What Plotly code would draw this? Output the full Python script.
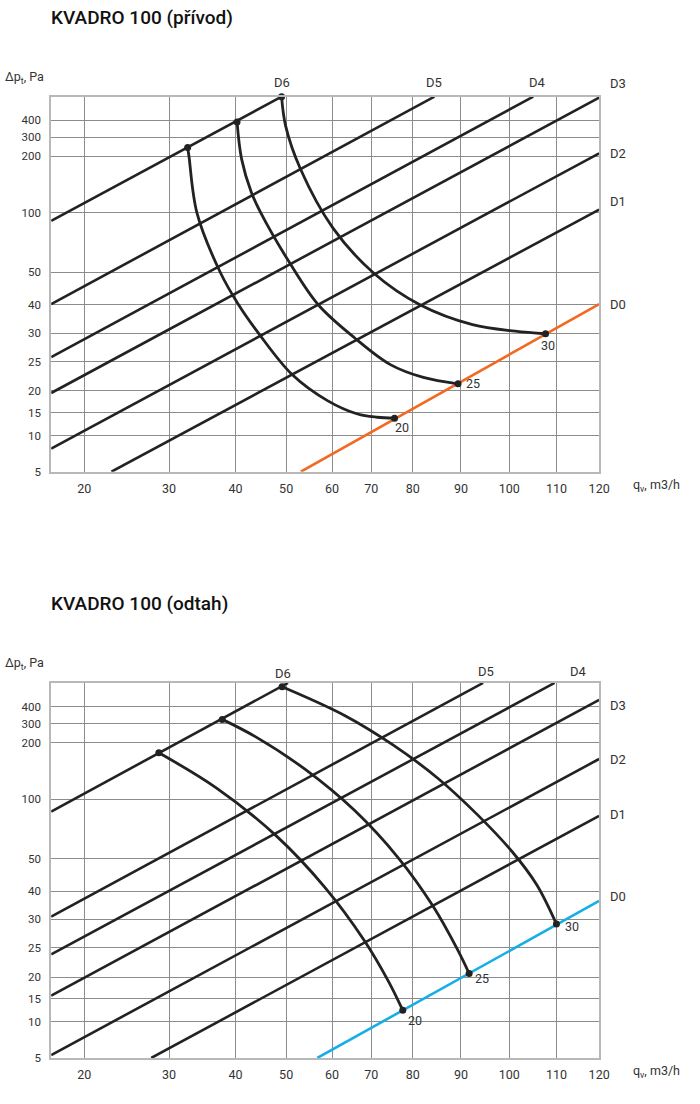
import numpy as np
import plotly.graph_objects as go

# ---------------- scale (nomogram rulers) ----------------
FLOW_TICKS = [20, 30, 40, 50, 60, 70, 80, 90, 100, 110, 120]
PRESSURE_TICKS = [5, 10, 15, 20, 25, 30, 40, 50, 100, 200, 300, 400]
FLOW_EDGE_MIN = 16
PRESSURE_EDGE_MAX = 500
# non-uniform ruler of the printed nomogram (ruler units, left/bottom edge = 0)
FLOW_RULER = [0, 33.7, 119.7, 187.3, 238.7, 285.3, 325.3, 367.3, 416.3, 465.3, 513.3, 556.7]
PRESSURE_RULER = [0, 36.4, 59.4, 81.4, 110.7, 139.4, 168, 200.7, 260.4, 317.4, 336.4, 353.7, 377.4]

D_NAMES = ["D0", "D1", "D2", "D3", "D4", "D5", "D6"]
CURVE_NAMES = ["20", "25", "30"]

# ---------------- KVADRO 100 (přívod) ----------------
SUP_D_Q_START = [53.2, 23.2, 16, 16, 16, 16, 16]
SUP_D_P_START = [5, 5, 8.2, 19.5, 25.8, 40.2, 93.3]
SUP_D_Q_END = [120, 120, 120, 120, 105.1, 84.5, 49.1]
SUP_D_P_END = [40.2, 106, 216, 496, 500, 500, 500]

SUP_C20_Q = [32.8, 33.0, 34.2, 37.7, 40.6, 44.7, 51.3, 59.1, 66.5, 71.4, 75.6]
SUP_C20_P = [247, 200, 100, 50, 40, 29.8, 22.8, 17.7, 14.7, 14.0, 13.8]
SUP_C25_Q = [40.3, 41.2, 43.1, 45.0, 50.6, 57.0, 65.7, 74.6, 82.2, 89.4]
SUP_C25_P = [390, 195, 137, 100, 59, 40, 29.2, 24.5, 22.3, 21.2]
SUP_C30_Q = [49.1, 49.9, 53.1, 60.3, 70.6, 81.5, 92.4, 101.3, 107.7]
SUP_C30_P = [500, 367, 178, 87, 49.7, 40, 33, 30.7, 29.9]

# ---------------- KVADRO 100 (odtah) ----------------
EXH_D_Q_START = [56.8, 27.9, 16, 16, 16, 16, 16]
EXH_D_P_START = [5, 5, 5.4, 15.75, 23.9, 31, 89.6]
EXH_D_Q_END = [120, 120, 120, 120, 109.6, 94.6, 50.4]
EXH_D_P_END = [36.5, 86, 171, 428, 500, 500, 500]

EXH_C20_Q = [28.8, 37.1, 47.9, 58.4, 68.2, 74.2, 77.6]
EXH_C20_P = [182, 120, 69.7, 41.2, 26.3, 18.9, 12.5]
EXH_C25_Q = [38.0, 44.0, 54.1, 65.7, 76.6, 84.2, 89.3, 91.7]
EXH_C25_P = [325, 230, 153, 90.6, 50.2, 34.7, 24.7, 20.6]
EXH_C30_Q = [49.2, 63.2, 75.4, 85.2, 93.4, 100.6, 105.8, 110]
EXH_C30_P = [484, 348, 195, 137, 87, 55.9, 42, 29.2]

# ---------------- styles ----------------
W, H = 700, 1104
INK = "#222222"
TEXT = "#333333"
FONT = "Roboto"
SUP_D0_COLOR = "#f26a21"
EXH_D0_COLOR = "#16aee6"

FLOW_SCALE_VALUES = [FLOW_EDGE_MIN] + FLOW_TICKS
PRESSURE_SCALE_VALUES = PRESSURE_TICKS + [PRESSURE_EDGE_MAX]


def fx(q):
    return np.interp(np.asarray(q, dtype=float), FLOW_SCALE_VALUES, FLOW_RULER)


def fy(p):
    return np.interp(np.asarray(p, dtype=float), PRESSURE_SCALE_VALUES, PRESSURE_RULER)


fig = go.Figure()

# label offsets (px) for D labels: (xshift, yshift, xanchor)
SUP_D_LABEL_OFF = [(9, 0, "left"), (9, 8, "left"), (9, 0, "left"), (9, 14, "left"),
                   (4, 14, "center"), (0, 14, "center"), (0, 14, "center")]
EXH_D_LABEL_OFF = [(9, 4, "left"), (9, 1, "left"), (9, -1, "left"), (9, -6, "left"),
                   (24, 11, "center"), (3, 11, "center"), (-5, 9, "center")]
SUP_CURVE_LABEL_OFF = [(7, -9), (15, 0), (2, -12)]
EXH_CURVE_LABEL_OFF = [(12, -10), (13, -5), (16, -3)]


def add_chart(xa, ya, dq0, dp0, dq1, dp1, curves, d0_color, d_off, c_off):
    annotations = []
    for i, name in enumerate(D_NAMES):
        color = d0_color if i == 0 else INK
        fig.add_trace(go.Scatter(
            x=fx([dq0[i], dq1[i]]), y=fy([dp0[i], dp1[i]]),
            mode="lines", line=dict(color=color, width=2.6),
            xaxis=xa, yaxis=ya, hoverinfo="skip", showlegend=False))
        xs, ys, anc = d_off[i]
        annotations.append(dict(
            x=float(fx(dq1[i])), y=float(fy(dp1[i])),
            xref=xa, yref=ya, text=name, showarrow=False,
            xanchor=anc, yanchor="middle", xshift=xs, yshift=ys,
            font=dict(family=FONT, size=13, color=TEXT)))
    for j, (q, p) in enumerate(curves):
        fig.add_trace(go.Scatter(
            x=fx(q), y=fy(p), mode="lines",
            line=dict(color=INK, width=2.8, shape="spline", smoothing=1.0),
            xaxis=xa, yaxis=ya, hoverinfo="skip", showlegend=False))
        fig.add_trace(go.Scatter(
            x=fx([q[0], q[-1]]), y=fy([p[0], p[-1]]), mode="markers",
            marker=dict(color=INK, size=7),
            xaxis=xa, yaxis=ya, hoverinfo="skip", showlegend=False,
            cliponaxis=False))
        xs, ys = c_off[j]
        annotations.append(dict(
            x=float(fx(q[-1])), y=float(fy(p[-1])),
            xref=xa, yref=ya, text=CURVE_NAMES[j], showarrow=False,
            xanchor="center", yanchor="middle", xshift=xs, yshift=ys,
            font=dict(family=FONT, size=12.5, color=TEXT)))
    return annotations


ann = []
ann += add_chart("x", "y", SUP_D_Q_START, SUP_D_P_START, SUP_D_Q_END, SUP_D_P_END,
                 [(SUP_C20_Q, SUP_C20_P), (SUP_C25_Q, SUP_C25_P), (SUP_C30_Q, SUP_C30_P)],
                 SUP_D0_COLOR, SUP_D_LABEL_OFF, SUP_CURVE_LABEL_OFF)
ann += add_chart("x2", "y2", EXH_D_Q_START, EXH_D_P_START, EXH_D_Q_END, EXH_D_P_END,
                 [(EXH_C20_Q, EXH_C20_P), (EXH_C25_Q, EXH_C25_P), (EXH_C30_Q, EXH_C30_P)],
                 EXH_D0_COLOR, EXH_D_LABEL_OFF, EXH_CURVE_LABEL_OFF)


def px(xp):
    return xp / W


def py(yp):
    return 1 - yp / H


for title, ty, ay, qy in [("KVADRO 100 (přívod)", 18, 78, 488.5),
                          ("KVADRO 100 (odtah)", 607, 668, 1078.5)]:
    ann.append(dict(x=px(50), y=py(ty), xref="paper", yref="paper", text=title,
                    showarrow=False, xanchor="left", yanchor="middle",
                    font=dict(family=FONT, size=19, color="#111111", weight=500)))
    ann.append(dict(x=px(25), y=py(ay), xref="paper", yref="paper",
                    text="Δp<sub>t</sub>, Pa", showarrow=False,
                    xanchor="center", yanchor="middle",
                    font=dict(family=FONT, size=12.5, color=TEXT)))
    ann.append(dict(x=px(667), y=py(qy), xref="paper", yref="paper",
                    text="q<sub>v</sub>, m3/h", showarrow=False,
                    xanchor="center", yanchor="middle",
                    font=dict(family=FONT, size=12.5, color=TEXT)))

x_dom = [52 / W, 608.7 / W]
top_dom = [py(474.7), py(97.3)]
bot_dom = [py(1064.7), py(687.3)]

common_x = dict(range=[FLOW_RULER[0], FLOW_RULER[-1]], tickmode="array",
                tickvals=list(fx(FLOW_TICKS)), ticktext=[str(v) for v in FLOW_TICKS],
                showgrid=True, gridcolor="#8c8c8c", gridwidth=1, zeroline=False,
                showline=True, mirror=True, linecolor="#b8b8b8", linewidth=2,
                ticks="", ticklabelstandoff=4, fixedrange=True,
                tickfont=dict(family=FONT, size=12.5, color=TEXT))
common_y = dict(range=[PRESSURE_RULER[0], PRESSURE_RULER[-1]], tickmode="array",
                tickvals=list(fy(PRESSURE_TICKS)), ticktext=[str(v) for v in PRESSURE_TICKS],
                showgrid=True, gridcolor="#8c8c8c", gridwidth=1, zeroline=False,
                showline=True, mirror=True, linecolor="#b8b8b8", linewidth=2,
                ticks="", ticklabelstandoff=6, fixedrange=True,
                tickfont=dict(family=FONT, size=11.5, color=TEXT))

fig.update_layout(
    width=W, height=H, margin=dict(l=0, r=0, t=0, b=0),
    paper_bgcolor="white", plot_bgcolor="white", showlegend=False,
    xaxis=dict(domain=x_dom, anchor="y", **common_x),
    yaxis=dict(domain=top_dom, anchor="x", **common_y),
    xaxis2=dict(domain=x_dom, anchor="y2", **common_x),
    yaxis2=dict(domain=bot_dom, anchor="x2", **common_y),
    annotations=ann,
)

RESET_JS = (
    "[document.documentElement, document.body].forEach(function(e){"
    "e.style.margin='0';e.style.padding='0';e.style.overflow='hidden';"
    "e.style.width='700px';e.style.height='1104px';});"
    "var gd=document.getElementById('{plot_id}');"
    "gd.style.position='fixed';gd.style.left='0px';gd.style.top='0px';"
)

fig.write_html(
    "out.html",
    config={"displayModeBar": False, "staticPlot": True},
    post_script=RESET_JS,
)
